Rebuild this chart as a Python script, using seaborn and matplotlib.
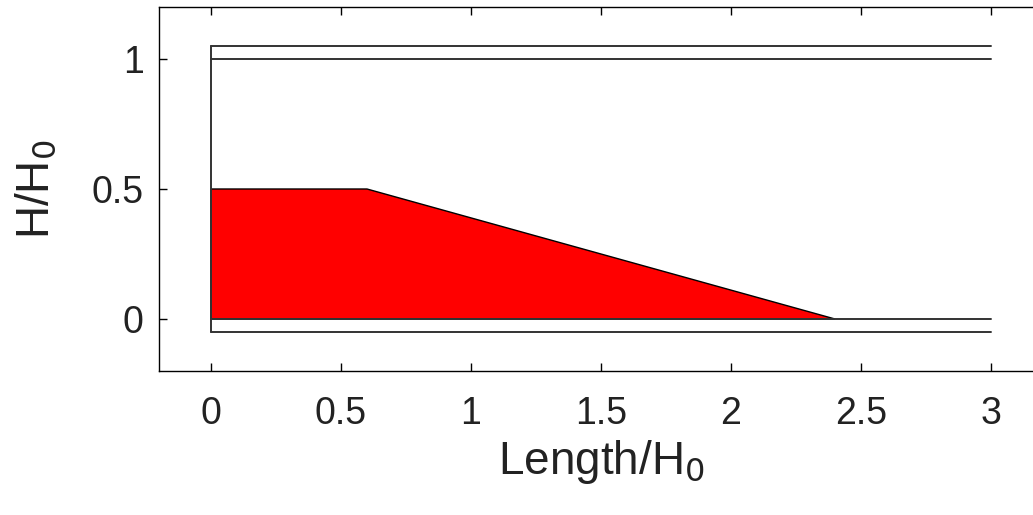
import matplotlib
matplotlib.use("Agg")
import matplotlib.pyplot as plt
import seaborn as sns
import pandas as pd

# Wedge (red block) outline
wedge_x = [0, 0, 0.6, 2.4]
wedge_y = [0, 0.5, 0.5, 0]

# Channel walls: horizontal lines from x=0 to x=3
wall_x = [0, 3]
wall_levels = [1.05, 1.0, 0.0, -0.05]
# Left wall
left_x = [0, 0]
left_y = [-0.05, 1.05]

x_ticks = [0, 0.5, 1, 1.5, 2, 2.5, 3]
x_ticklabels = ["0", "0.5", "1", "1.5", "2", "2.5", "3"]
y_ticks = [0, 0.5, 1]
y_ticklabels = ["0", "0.5", "1"]

sns.set_style("white")
plt.rcParams['font.family'] = ['Liberation Sans', 'DejaVu Sans']

fig = plt.figure(figsize=(10.33, 5.15), dpi=100)
ax = fig.add_axes([159 / 1033, 1 - 371 / 515, 884 / 1033, 364 / 515])

# red block
ax.fill(wedge_x, wedge_y, facecolor="#ff0000", edgecolor="black", linewidth=1.0, zorder=2)

# walls
walls = pd.DataFrame(
    [(x, lvl, str(lvl)) for lvl in wall_levels for x in wall_x],
    columns=["x", "y", "wall"],
)
sns.lineplot(data=walls, x="x", y="y", units="wall", estimator=None,
             color="#333333", linewidth=1.4, ax=ax, zorder=3)
sns.lineplot(x=left_x, y=left_y, estimator=None, color="#333333", linewidth=1.4,
             ax=ax, zorder=3, sort=False)

ax.set_xlim(-0.2, 3.2)
ax.set_ylim(-0.2, 1.2)
ax.set_xticks(x_ticks)
ax.set_xticklabels(x_ticklabels)
ax.set_yticks(y_ticks)
ax.set_yticklabels(y_ticklabels)
ax.tick_params(direction="in", length=6, width=1, labelsize=27,
               top=True, right=True, bottom=True, left=True,
               colors="black", labelcolor="#222222")
ax.tick_params(axis="x", pad=18)
ax.tick_params(axis="y", pad=11)
for s in ax.spines.values():
    s.set_visible(True)
    s.set_color("black")
    s.set_linewidth(1.0)

ax.set_xlabel("Length/H$_0$", fontsize=33, color="#222222", labelpad=4)
ax.set_ylabel("H/H$_0$", fontsize=33, color="#222222", labelpad=24)

fig.savefig("out.png", dpi=100)
